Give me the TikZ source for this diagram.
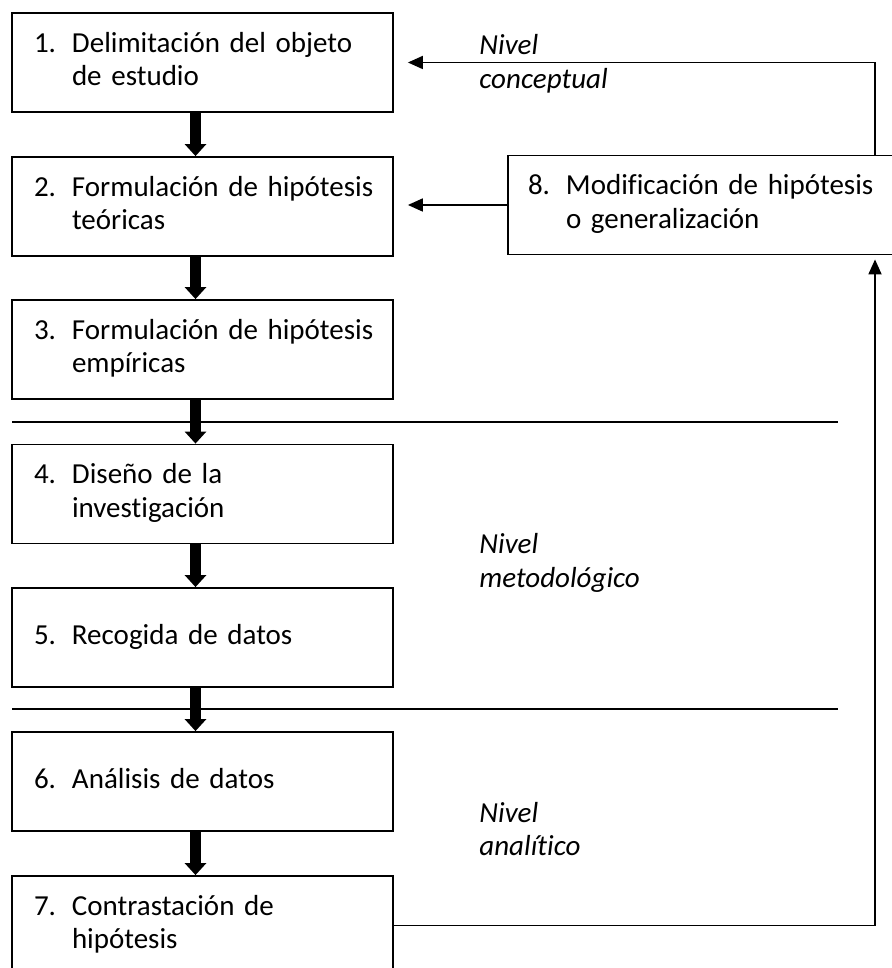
\documentclass[tikz,border=0pt]{standalone}
\usepackage{fontspec}
\setmainfont{Carlito}[Ligatures=NoCommon]
\usetikzlibrary{arrows.meta}

\newcommand{\letra}{\fontsize{14.5}{16.75}\selectfont}
\newcommand{\paso}[2]{\begin{tabular}{@{}p{19pt}@{}l@{}}#1&#2\end{tabular}}

\tikzstyle{caja} = [draw, line width=0.9pt, minimum height=49.5pt, text width=168.5pt, inner xsep=11pt, align=left, font=\letra]
\tikzstyle{nivel} = [anchor=west, align=left, inner sep=0pt, font=\letra\itshape]
\tikzstyle{flecha} = [line width=0.9pt, -{Triangle[length=7.5pt,width=6.5pt]}]
\tikzstyle{gruesa} = [line width=5.5pt, -{Triangle[length=6pt,width=10.5pt]}]

\begin{document}
\begin{tikzpicture}[x=0.5pt, y=-0.5pt]
    \useasboundingbox (0,0) rectangle (892,968);
    % Pasos
    \node[caja] (p1) at (202.5, 62.5) {\paso{1.}{Delimitación del objeto\\&de estudio}};
    \node[caja] (p2) at (202.5, 206.5) {\paso{2.}{Formulación de hipótesis\\&teóricas}};
    \node[caja] (p3) at (202.5, 349.5) {\paso{3.}{Formulación de hipótesis\\&empíricas}};
    \node[caja] (p4) at (202.5, 494) {\paso{4.}{Diseño de la\\&investigación}};
    \node[caja] (p5) at (202.5, 637.5) {\paso{5.}{Recogida de datos}};
    \node[caja] (p6) at (202.5, 781.5) {\paso{6.}{Análisis de datos}};
    \node[caja] (p7) at (202.5, 925.5) {\paso{7.}{Contrastación de\\&hipótesis}};
    \node[caja, text width=180pt, inner xsep=10pt] (p8) at (708, 205) {\paso{8.}{Modificación de hipótesis\\&o generalización}};
    % Niveles
    \node[nivel] (n1) at (479, 64) {Nivel\\conceptual};
    \node[nivel] (n2) at (479, 563) {Nivel\\metodológico};
    \node[nivel] (n3) at (479, 829) {Nivel\\analítico};
    \coordinate (ret) at (875, 0);
    % Separadores
    \draw[line width=0.8pt] (12, 422) -- (838, 422);
    \draw[line width=0.8pt] (12, 709) -- (838, 709);
    % Flechas
    \foreach \i [count=\j from 2] in {1,...,6}
      \draw[gruesa] ([xshift=-3.5pt]p\i.south) -- ([xshift=-3.5pt]p\j.north);
    \draw[flecha, shorten >=7pt] (p8.north -| ret) |- (p1.east);
    \draw[flecha, shorten >=7pt] (p8.west) -- (p8.west -| p2.east);
    \draw[flecha, shorten >=2pt] (p7.east) -| (p8.south -| ret);
\end{tikzpicture}
\end{document}
